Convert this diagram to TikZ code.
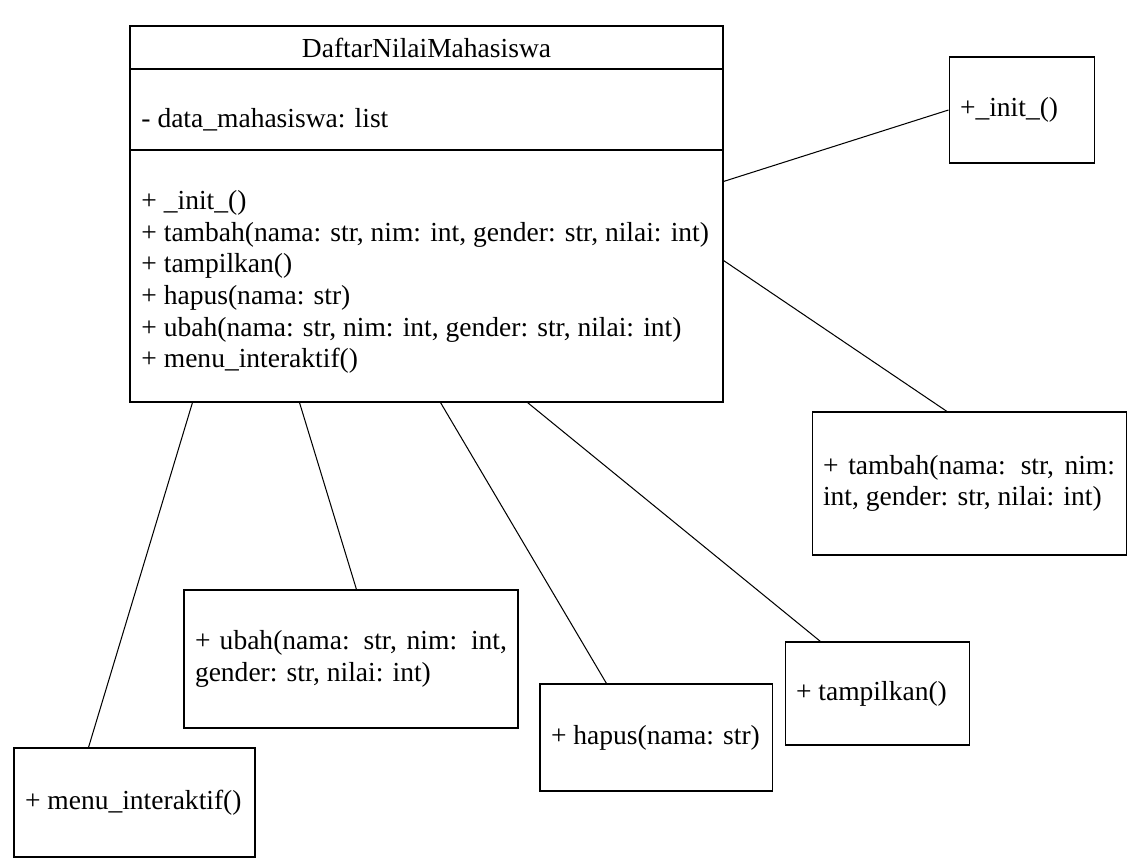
\documentclass[tikz,border=0pt]{standalone}
\usepackage{fontspec}
\setmainfont{Liberation Serif}
\usepackage{tikz}
\usetikzlibrary{positioning, calc}

\newcommand{\pxu}{0.436pt}
\tikzset{
  umlbox/.style={draw=black, line width=0.45pt, rectangle, inner ysep=0pt, inner xsep=11*\pxu,
    font=\fontsize{12}{13.8}\selectfont},
  methodbox/.style={umlbox, align=justify},
  umltext/.style={inner sep=0pt, align=left, font=\fontsize{12}{13.8}\selectfont},
  link/.style={draw=black, line width=0.45pt},
}

\begin{document}
\begin{tikzpicture}[x=\pxu, y=-\pxu]
  \useasboundingbox (0,0) rectangle (1139,864);

  % kelas DaftarNilaiMahasiswa
  \node[umlbox, minimum width=593*\pxu, minimum height=43*\pxu] (title) at (426.5,47.5) {DaftarNilaiMahasiswa};
  \node[umlbox, minimum width=593*\pxu, minimum height=81*\pxu] (attrs) at (426.5,109.5) {};
  \node[umlbox, minimum width=593*\pxu, minimum height=252*\pxu] (methods) at (426.5,276) {};
  \node[umltext, anchor=west] (attrlist) at (141,120) {- data\_mahasiswa: list};
  \node[umltext, anchor=west] (methodlist) at (141,282) {%
    + \_init\_()\\
    + tambah(nama: str, nim: int, gender: str, nilai: int)\\
    + tampilkan()\\
    + hapus(nama: str)\\
    + ubah(nama: str, nim: int, gender: str, nilai: int)\\
    + menu\_interaktif()};

  % method boxes
  \node[methodbox, text width=123*\pxu, minimum height=106*\pxu] (init) at (1021.5,110) {+\_init\_()};
  \node[methodbox, text width=292*\pxu, minimum height=143*\pxu] (tambah) at (969,483.5) {+ tambah(nama: str, nim: int, gender: str, nilai: int)};
  \node[methodbox, text width=162*\pxu, minimum height=103*\pxu] (tampilkan) at (877,693.5) {+ tampilkan()};
  \node[methodbox, text width=210*\pxu, minimum height=107*\pxu] (hapus) at (656,737.5) {+ hapus(nama: str)};
  \node[methodbox, text width=312*\pxu, minimum height=138*\pxu] (ubah) at (351,659) {+ ubah(nama: str, nim: int, gender: str, nilai: int)};
  \node[methodbox, text width=219*\pxu, minimum height=109*\pxu] (menu) at (134.5,802.5) {+ menu\_interaktif()};

  % connectors
  \draw[link] ([shift={(0,32)}]methods.north east) -- (init.west);
  \draw[link] ([shift={(0,111)}]methods.north east) -- ([shift={(-22,0)}]tambah.north);
  \draw[link] ([shift={(398,0)}]methods.south west) -- ([shift={(36,0)}]tampilkan.north west);
  \draw[link] ([shift={(311,0)}]methods.south west) -- ([shift={(67,0)}]hapus.north west);
  \draw[link] ([shift={(170,0)}]methods.south west) -- ([shift={(173,0)}]ubah.north west);
  \draw[link] ([shift={(63,0)}]methods.south west) -- ([shift={(75,0)}]menu.north west);
\end{tikzpicture}
\end{document}
